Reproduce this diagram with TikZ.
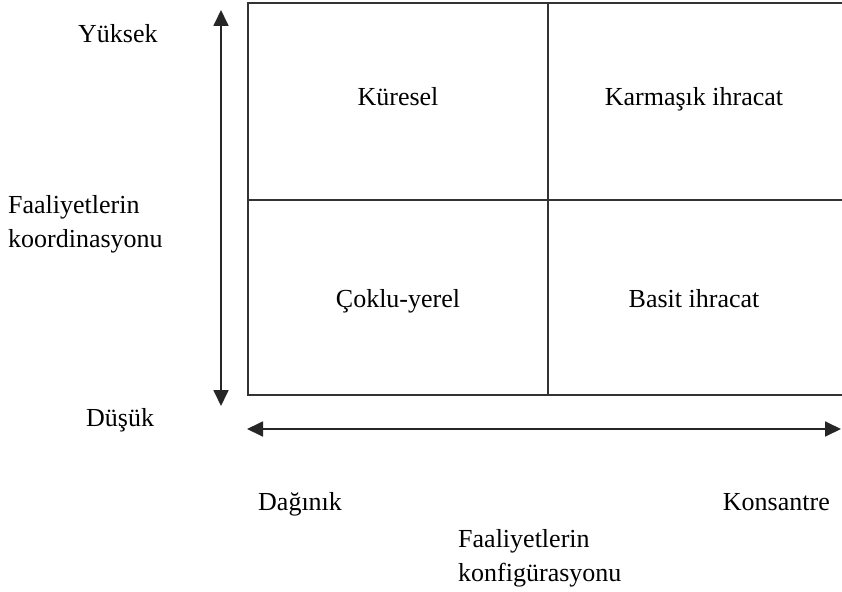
\documentclass[tikz,border=0pt]{standalone}
\usepackage{fontspec}
\setmainfont{Liberation Serif}
\usetikzlibrary{arrows.meta,positioning}

\begin{document}
\begin{tikzpicture}[
    x=1pt, y=-1pt,
    every node/.style={inner sep=0pt, font=\fontsize{26}{34}\selectfont},
    cell/.style={anchor=base},
    axislabel/.style={anchor=base west, align=left},
    grid/.style={line width=1.7pt, draw=black!80},
    axis/.style={line width=1.8pt, draw=black!85, {Triangle[length=16pt,width=15pt]}-{Triangle[length=16pt,width=15pt]}}
]
\useasboundingbox (0,0) rectangle (842,591);

% Matrix frame
\draw[grid] (842,3) -- (248,3) -- (248,395) -- (842,395);
\draw[grid] (548,3) -- (548,395);
\draw[grid] (248,200) -- (842,200);

% Quadrants
\node[cell] (global) at (398,106) {Küresel};
\node[cell] (complex) at (694,106) {Karmaşık ihracat};
\node[cell] (multi) at (398,307) {Çoklu-yerel};
\node[cell] (simple) at (694,307) {Basit ihracat};

% Vertical axis
\coordinate (vtop) at (221,10);
\coordinate (vbot) at (221,406);
\draw[axis] (vbot) -- (vtop);
\node[axislabel] (high) at (78,43) {Yüksek};
\node[axislabel] (coord) at (8,247) {Faaliyetlerin\\koordinasyonu};
\node[axislabel] (low) at (86,426) {Düşük};

% Horizontal axis
\coordinate (hleft) at (247,429);
\coordinate (hright) at (841,429);
\draw[axis] (hleft) -- (hright);
\node[axislabel] (spread) at (258,510) {Dağınık};
\node[anchor=base east] (conc) at (830,510) {Konsantre};
\node[axislabel] (config) at (458,581) {Faaliyetlerin\\konfigürasyonu};

\end{tikzpicture}
\end{document}
